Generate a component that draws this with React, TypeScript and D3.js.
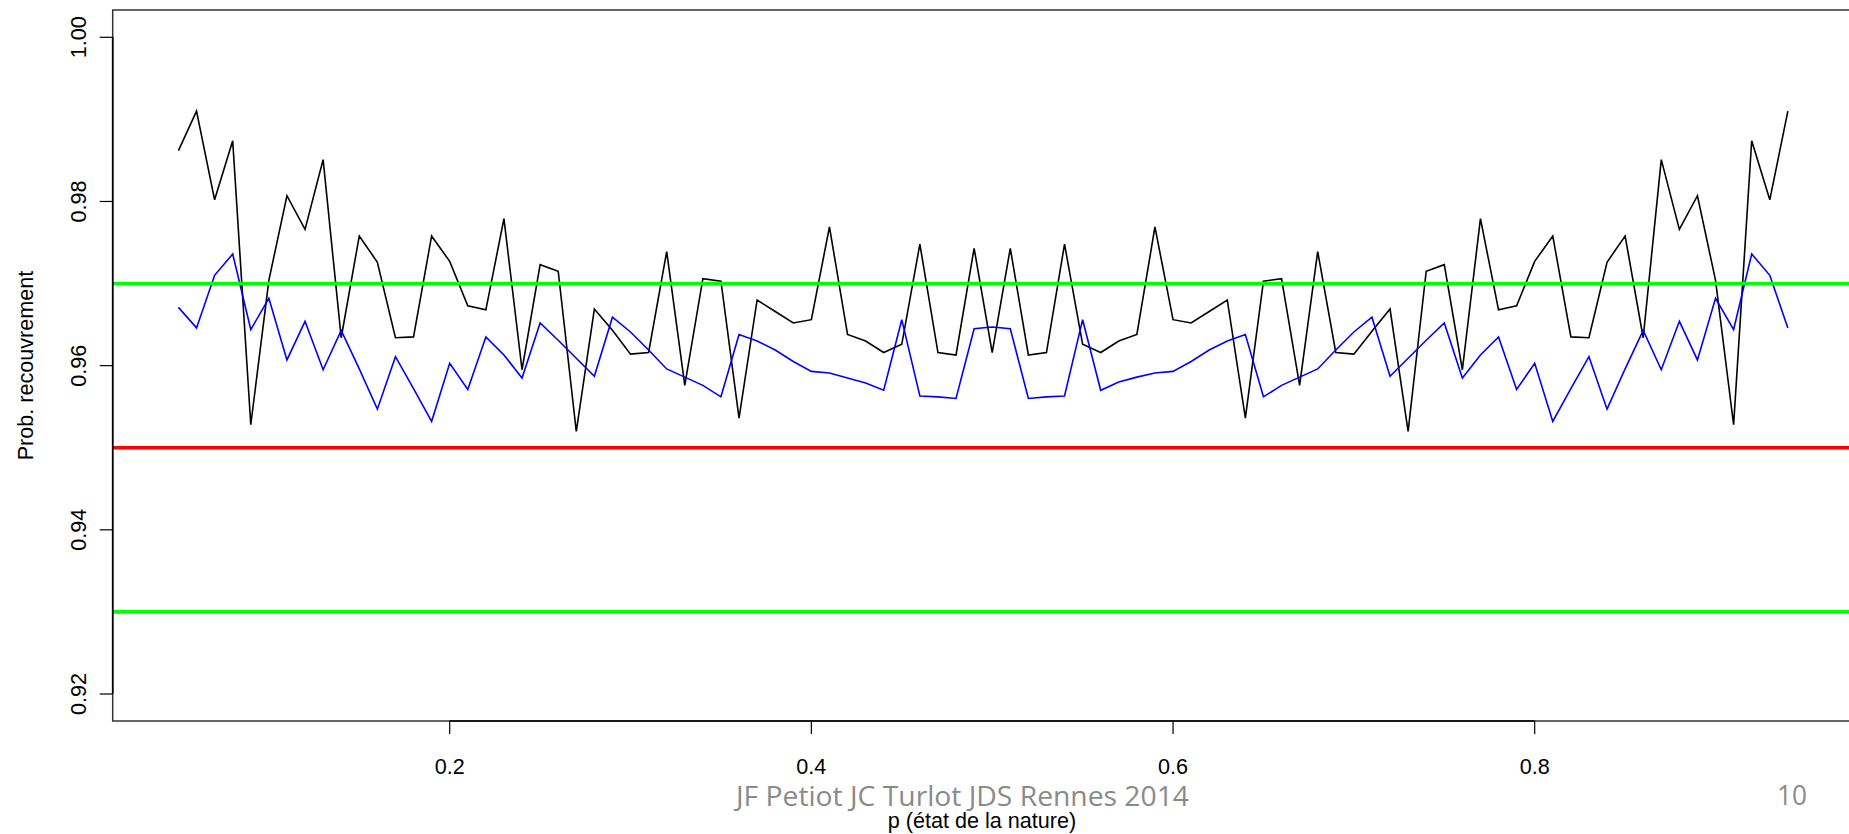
import React from "react";
import * as d3 from "d3";

const pValues = [
  0.05, 0.06, 0.07, 0.08, 0.09, 0.10, 0.11, 0.12, 0.13, 0.14,
  0.15, 0.16, 0.17, 0.18, 0.19, 0.20, 0.21, 0.22, 0.23, 0.24,
  0.25, 0.26, 0.27, 0.28, 0.29, 0.30, 0.31, 0.32, 0.33, 0.34,
  0.35, 0.36, 0.37, 0.38, 0.39, 0.40, 0.41, 0.42, 0.43, 0.44,
  0.45, 0.46, 0.47, 0.48, 0.49, 0.50, 0.51, 0.52, 0.53, 0.54,
  0.55, 0.56, 0.57, 0.58, 0.59, 0.60, 0.61, 0.62, 0.63, 0.64,
  0.65, 0.66, 0.67, 0.68, 0.69, 0.70, 0.71, 0.72, 0.73, 0.74,
  0.75, 0.76, 0.77, 0.78, 0.79, 0.80, 0.81, 0.82, 0.83, 0.84,
  0.85, 0.86, 0.87, 0.88, 0.89, 0.90, 0.91, 0.92, 0.93, 0.94,
];

const blackSeries = [
  0.9862, 0.9910, 0.9802, 0.9874, 0.9528, 0.9704, 0.9807, 0.9766, 0.9851, 0.9634,
  0.9758, 0.9726, 0.9634, 0.9635, 0.9758, 0.9727, 0.9673, 0.9668, 0.9779, 0.9595,
  0.9723, 0.9715, 0.9520, 0.9669, 0.9643, 0.9614, 0.9616, 0.9739, 0.9576, 0.9706,
  0.9703, 0.9536, 0.9680, 0.9666, 0.9652, 0.9656, 0.9769, 0.9638, 0.9630, 0.9616,
  0.9626, 0.9748, 0.9616, 0.9613, 0.9743, 0.9616, 0.9743, 0.9613, 0.9616, 0.9748,
  0.9626, 0.9616, 0.9630, 0.9638, 0.9769, 0.9656, 0.9652, 0.9666, 0.9680, 0.9536,
  0.9703, 0.9706, 0.9576, 0.9739, 0.9616, 0.9614, 0.9642, 0.9669, 0.9520, 0.9715,
  0.9723, 0.9595, 0.9779, 0.9668, 0.9673, 0.9727, 0.9758, 0.9635, 0.9634, 0.9726,
  0.9758, 0.9634, 0.9851, 0.9766, 0.9807, 0.9704, 0.9528, 0.9874, 0.9802, 0.9910,
];

const blueSeries = [
  0.9671, 0.9646, 0.9710, 0.9736, 0.9644, 0.9682, 0.9607, 0.9654, 0.9595, 0.9643,
  0.9596, 0.9547, 0.9611, 0.9572, 0.9532, 0.9603, 0.9571, 0.9635, 0.9613, 0.9585,
  0.9652, 0.9631, 0.9609, 0.9587, 0.9659, 0.9641, 0.9619, 0.9596, 0.9586, 0.9576,
  0.9562, 0.9638, 0.9630, 0.9619, 0.9605, 0.9593, 0.9591, 0.9585, 0.9579, 0.9570,
  0.9656, 0.9563, 0.9562, 0.9560, 0.9645, 0.9647, 0.9645, 0.9560, 0.9562, 0.9563,
  0.9656, 0.9570, 0.9580, 0.9586, 0.9591, 0.9593, 0.9605, 0.9619, 0.9630, 0.9638,
  0.9562, 0.9576, 0.9586, 0.9596, 0.9619, 0.9641, 0.9659, 0.9587, 0.9609, 0.9631,
  0.9652, 0.9585, 0.9613, 0.9635, 0.9571, 0.9603, 0.9532, 0.9572, 0.9611, 0.9547,
  0.9596, 0.9643, 0.9595, 0.9654, 0.9607, 0.9682, 0.9644, 0.9736, 0.9710, 0.9646,
];

const hLines = [
  { value: 0.97, color: "#00ff00" },
  { value: 0.95, color: "#ff0000" },
  { value: 0.93, color: "#00ff00" },
];

const xTicks = [0.2, 0.4, 0.6, 0.8];
const xTickLabels = ["0.2", "0.4", "0.6", "0.8"];
const yTicks = [0.92, 0.94, 0.96, 0.98, 1.0];
const yTickLabels = ["0.92", "0.94", "0.96", "0.98", "1.00"];

const xLabel = "p (état de la nature)";
const yLabel = "Prob. recouvrement";
const footerText = "JF Petiot JC Turlot JDS Rennes 2014";
const pageNumber = "10";

const W = 1849;
const H = 834;
const box = { left: 112.7, top: 10, right: 1851.3, bottom: 721 };
const FONT = "'Liberation Sans', Arial, Helvetica, sans-serif";
const FS = 21.6;

export default function App() {
  const x = d3.scaleLinear().domain([0.2, 0.8]).range([449.7, 1534.7]);
  const y = d3.scaleLinear().domain([0.92, 1.0]).range([694, 37.3]);

  const line = d3
    .line<number>()
    .x((_, i) => x(pValues[i]))
    .y((d) => y(d));

  const cx = (box.left + box.right) / 2;
  const cy = (box.top + box.bottom) / 2;

  return (
    <svg
      width={W}
      height={H}
      style={{ position: "absolute", left: 0, top: 0, background: "#fff" }}
      fontFamily={FONT}
    >
      <rect x={0} y={0} width={W} height={H} fill="#fff" />
      <path d={line(blackSeries) || ""} fill="none" stroke="#000" strokeWidth={1.6} strokeLinejoin="miter" />
      <path d={line(blueSeries) || ""} fill="none" stroke="#0000ff" strokeWidth={1.6} strokeLinejoin="miter" />
      {hLines.map((h, i) => (
        <line
          key={i}
          x1={box.left}
          x2={W}
          y1={y(h.value)}
          y2={y(h.value)}
          stroke={h.color}
          strokeWidth={3.6}
        />
      ))}
      {/* box */}
      <rect
        x={box.left}
        y={box.top}
        width={box.right - box.left}
        height={box.bottom - box.top}
        fill="none"
        stroke="#333"
        strokeWidth={1.5}
      />
      {/* x axis */}
      <line x1={x(xTicks[0])} x2={x(xTicks[xTicks.length - 1])} y1={box.bottom} y2={box.bottom} stroke="#000" strokeWidth={1.6} />
      {xTicks.map((t, i) => (
        <g key={i}>
          <line x1={x(t)} x2={x(t)} y1={box.bottom} y2={box.bottom + 13} stroke="#000" strokeWidth={1.2} />
          <text x={x(t)} y={774} textAnchor="middle" fontSize={FS} fill="#000">
            {xTickLabels[i]}
          </text>
        </g>
      ))}
      {/* y axis */}
      <line x1={box.left} x2={box.left} y1={y(yTicks[0])} y2={y(yTicks[yTicks.length - 1])} stroke="#000" strokeWidth={1.6} />
      {yTicks.map((t, i) => (
        <g key={i}>
          <line x1={box.left - 13} x2={box.left} y1={y(t)} y2={y(t)} stroke="#000" strokeWidth={1.2} />
          <text
            transform={`translate(86,${y(t)}) rotate(-90)`}
            textAnchor="middle"
            fontSize={FS}
            fill="#000"
          >
            {yTickLabels[i]}
          </text>
        </g>
      ))}
      {/* axis titles */}
      <text transform={`translate(33,${cy}) rotate(-90)`} textAnchor="middle" fontSize={FS} fill="#000">
        {yLabel}
      </text>
      <text x={cx} y={828} textAnchor="middle" fontSize={FS} fill="#000">
        {xLabel}
      </text>
      {/* slide footer */}
      <text
        x={736}
        y={806}
        fontSize={28}
        fill="#8a8a8a"
        fontFamily="'Open Sans', 'Noto Sans', sans-serif"
        textLength={453}
        lengthAdjust="spacingAndGlyphs"
      >
        {footerText}
      </text>
      <text
        x={1777}
        y={805}
        fontSize={28}
        fill="#8a8a8a"
        fontFamily="'Open Sans', 'Noto Sans', sans-serif"
        textLength={30}
        lengthAdjust="spacingAndGlyphs"
      >
        {pageNumber}
      </text>
    </svg>
  );
}
